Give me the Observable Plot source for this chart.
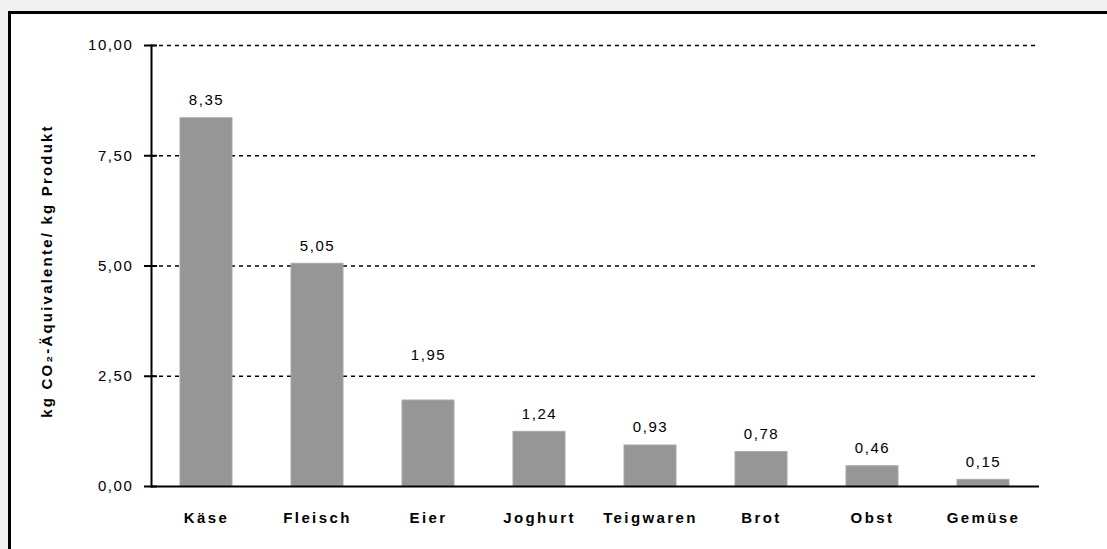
<!DOCTYPE html>
<html>
<head>
<meta charset="utf-8">
<script src="https://cdn.jsdelivr.net/npm/d3@7"></script>
<script src="https://cdn.jsdelivr.net/npm/@observablehq/plot@0.6"></script>
<style>
  html, body { margin: 0; padding: 0; background: #f0f0f0; width: 1107px; height: 549px; overflow: hidden; }
  #frame { position: absolute; left: 8px; top: 11px; width: 1120px; height: 560px; background: #fff; border-top: 3px solid #000; border-left: 3px solid #000; }
  #chart { position: absolute; left: 0; top: 0; }
  svg { font-family: "Liberation Sans", Arial, sans-serif; }
  svg text { letter-spacing: 1.6px; }
  svg g[font-weight="bold"] text { letter-spacing: 2.4px; }
  svg g.ylab text { letter-spacing: 2.2px; }
</style>
</head>
<body>
<div id="frame"></div>
<div id="chart"></div>
<script>
const categories = ["Käse", "Fleisch", "Eier", "Joghurt", "Teigwaren", "Brot", "Obst", "Gemüse"];
const values = [8.35, 5.05, 1.95, 1.24, 0.93, 0.78, 0.46, 0.15];
const yTicks = [0, 2.5, 5, 7.5, 10];
const gridTicks = [2.5, 5, 7.5, 10];
const yLabel = "kg CO₂-Äquivalente/ kg Produkt";
// label raised higher above the bar in the original (Eier)
const raisedLabel = ["Eier"];

const data = categories.map((c, i) => ({category: c, value: values[i]}));
const fmt = d => d.toFixed(2).replace(".", ",");

const chart = Plot.plot({
  width: 1107,
  height: 549,
  marginLeft: 151,
  marginRight: 68,
  marginTop: 45,
  marginBottom: 63,
  style: {background: "transparent", fontFamily: "Liberation Sans, Arial, sans-serif", color: "#000"},
  x: {domain: categories, paddingInner: 0.53, paddingOuter: 0.265, label: null},
  y: {domain: [0, 10], label: null},
  marks: [
    Plot.ruleY(gridTicks, {stroke: "#000", strokeWidth: 1.5, strokeDasharray: "4,4"}),
    Plot.barY(data, {x: "category", y: "value", fill: "#969696", stroke: "#a8a8a8", strokeWidth: 1}),
    Plot.ruleY([0], {stroke: "#000", strokeWidth: 2}),
    Plot.frame({anchor: "left", stroke: "#000", strokeWidth: 2}),
    Plot.axisY(yTicks, {tickSize: 13, dx: 6, text: null, stroke: "#000", strokeWidth: 2, strokeOpacity: 1}),
    Plot.axisY(yTicks, {tickSize: 0, tickPadding: 18, tickFormat: fmt, fontSize: 15, fill: "#000", label: null}),
    Plot.axisX({tickSize: 0, tickPadding: 26, fontSize: 15, fontWeight: "bold", fill: "#000", label: null}),
    Plot.text(data.filter(d => !raisedLabel.includes(d.category)), {x: "category", y: "value", text: d => fmt(d.value), dy: -18, fontSize: 15, fill: "#000"}),
    Plot.text(data.filter(d => raisedLabel.includes(d.category)), {x: "category", y: "value", text: d => fmt(d.value), dy: -45, fontSize: 15, fill: "#000"}),
    Plot.text([yLabel], {frameAnchor: "left", textAnchor: "middle", rotate: -90, dx: -104, dy: 5, fontSize: 15, fontWeight: "bold", fill: "#000", className: "ylab"})
  ]
});
document.getElementById("chart").appendChild(chart);
</script>
</body>
</html>
